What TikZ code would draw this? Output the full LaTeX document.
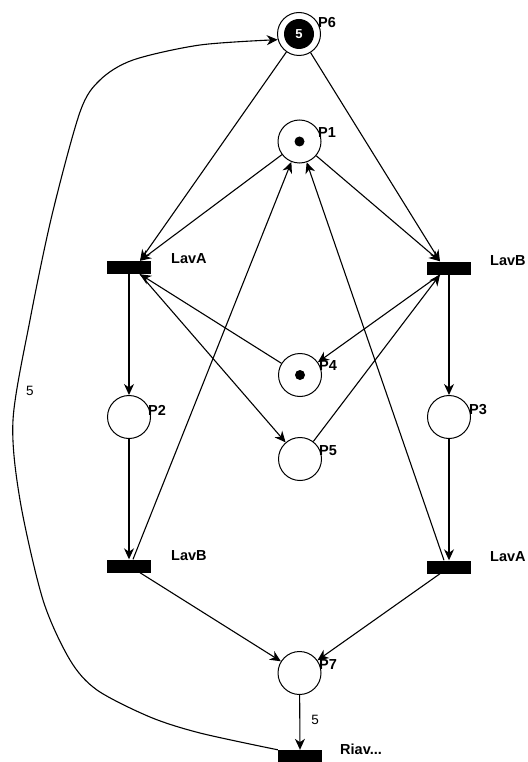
\documentclass[tikz,border=0pt]{standalone}
\usepackage{fontspec}
\setmainfont{Liberation Sans}
\usetikzlibrary{arrows.meta}
\begin{document}
\begin{tikzpicture}[x=1pt,y=-1pt,
  place/.style={circle,draw,line width=1pt,minimum size=43pt,inner sep=0pt},
  trans/.style={rectangle,fill=black,minimum width=44pt,minimum height=13pt,inner sep=0pt},
  lbl/.style={anchor=west,font=\bfseries\fontsize{14.5}{15}\selectfont,inner sep=0pt},
  wlbl/.style={font=\fontsize{13.5}{14}\selectfont,inner sep=0pt},
  arc/.style={line width=1.1pt,-{Stealth[length=11pt,width=10pt,inset=3.5pt]}},
  tok/.style={circle,fill=black,minimum size=10pt,inner sep=0pt}]
\useasboundingbox (0,0) rectangle (527,762);
% places
\node[place] (p6) at (299,34) {};
\node[circle,fill=black,minimum size=30pt,inner sep=0pt,text=white,font=\bfseries\fontsize{13}{14}\selectfont] (p6t) at (p6) {5};
\node[place] (p1) at (299.5,141.5) {};
\node[tok] (p1t) at (p1) {};
\node[place] (p4) at (300,375) {};
\node[tok] (p4t) at (p4) {};
\node[place] (p5) at (300,459) {};
\node[place] (p2) at (129,417) {};
\node[place] (p3) at (449,417) {};
\node[place] (p7) at (299.5,673) {};
% transitions
\node[trans] (tA1) at (129,267.5) {};
\node[trans] (tB1) at (449,268) {};
\node[trans] (tB2) at (129,566) {};
\node[trans] (tA2) at (449,567) {};
\node[trans] (tR) at (300,756.5) {};
% labels
\node[lbl] (l6) at (318,23) {P6};
\node[lbl] (l1) at (318,133) {P1};
\node[lbl] (l4) at (319,366) {P4};
\node[lbl] (l5) at (319,451) {P5};
\node[lbl] (l2) at (148,410) {P2};
\node[lbl] (l3) at (469,410) {P3};
\node[lbl] (l7) at (319,665) {P7};
\node[lbl] (lA1) at (171,259) {LavA};
\node[lbl] (lB1) at (490,261) {LavB};
\node[lbl] (lB2) at (171,556) {LavB};
\node[lbl] (lA2) at (490,557) {LavA};
\node[lbl] (lR) at (340,749) {Riav...};
\node[wlbl] (w1) at (315,720) {5};
\node[wlbl] (w2) at (30,391) {5};
% ports
\coordinate (tA1n) at ([xshift=11pt]tA1.north);
\coordinate (tA1s) at ([xshift=11pt]tA1.south);
\coordinate (tB1n) at ([xshift=-9pt]tB1.north);
\coordinate (tB1s) at ([xshift=-9pt]tB1.south);
\coordinate (tB2n) at ([xshift=4pt]tB2.north);
\coordinate (tB2s) at ([xshift=11pt]tB2.south);
\coordinate (tA2n) at ([xshift=-5pt]tA2.north);
\coordinate (tA2s) at ([xshift=-9pt]tA2.south);
% waypoints of the long arc
\coordinate (c1) at (200,733);
\coordinate (c2) at (150,717);
\coordinate (c3) at (97,690);
\coordinate (c4) at (70,660);
\coordinate (c5) at (43,600);
\coordinate (c6) at (20,500);
\coordinate (c7) at (13,420);
\coordinate (c8) at (30,320);
\coordinate (c9) at (52,215);
\coordinate (c10) at (80,112);
\coordinate (c11) at (100,80);
\coordinate (c12) at (133,60);
\coordinate (c13) at (200,45);
% arcs
\draw[arc] (p6) -- (tA1n);
\draw[arc] (p6) -- (tB1n);
\draw[arc] (p1) -- (tA1n);
\draw[arc] (p1) -- (tB1n);
\draw[arc] (p4) -- (tA1s);
\draw[arc] (tA1s) -- (p5);
\draw[arc] (tB1s) -- (p4);
\draw[arc] (p5) -- (tB1s);
\draw[arc] (tA1.south) -- (p2);
\draw[arc] (tB1.south) -- (p3);
\draw[arc] (p2) -- (tB2.north);
\draw[arc] (p3) -- (tA2.north);
\draw[arc] (tB2n) -- (p1);
\draw[arc] (tA2n) -- (p1);
\draw[arc] (tB2s) -- (p7);
\draw[arc] (tA2s) -- (p7);
\draw[arc] (p7) -- (tR.north);
\draw[arc] plot[smooth,tension=0.5] coordinates {(tR.north west) (c1) (c2) (c3) (c4) (c5) (c6) (c7) (c8) (c9) (c10) (c11) (c12) (c13) (p6.195)};
\end{tikzpicture}
\end{document}
